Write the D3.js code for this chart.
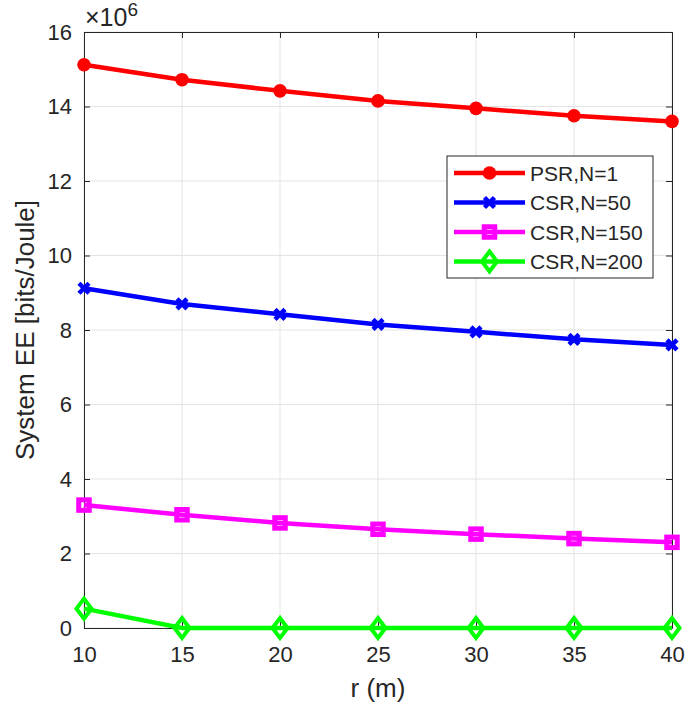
<!DOCTYPE html>
<html lang="en">
<head>
<meta charset="utf-8">
<style>
    body { margin: 0; background: #fff; }
    svg { display: block; }
    text { font-family: "Liberation Sans", Arial, sans-serif; fill: #262626; }
</style>
</head>
<body>
<svg width="687" height="706"></svg>
<script src="https://cdn.jsdelivr.net/npm/d3@7"></script>
<script>
// ---- data (values in units of 1e6 bits/Joule) ----
const rValues = [10, 15, 20, 25, 30, 35, 40];
const psrN1 = [15.12, 14.72, 14.42, 14.15, 13.95, 13.75, 13.60];
const csrN50 = [9.12, 8.70, 8.42, 8.15, 7.95, 7.75, 7.60];
const csrN150 = [3.30, 3.04, 2.82, 2.65, 2.52, 2.40, 2.30];
const csrN200 = [0.52, 0, 0, 0, 0, 0, 0];
const seriesNames = ["PSR,N=1", "CSR,N=50", "CSR,N=150", "CSR,N=200"];
const xTicks = [10, 15, 20, 25, 30, 35, 40];
const yTicks = [0, 2, 4, 6, 8, 10, 12, 14, 16];

const series = [
    { name: seriesNames[0], values: psrN1, color: "#ff0000", marker: "circle" },
    { name: seriesNames[1], values: csrN50, color: "#0000ff", marker: "x" },
    { name: seriesNames[2], values: csrN150, color: "#ff00ff", marker: "square" },
    { name: seriesNames[3], values: csrN200, color: "#00ff00", marker: "diamond" }
];

const svg = d3.select("svg");
const margin = { left: 84, top: 32, right: 15, bottom: 78 };
const width = 687 - margin.left - margin.right;
const height = 706 - margin.top - margin.bottom;
const tickFont = "22px";
const labelFont = "26px";
const legendFont = "21px";

const chart = svg.append("g").attr("transform", `translate(${margin.left}, ${margin.top})`);

const xScale = d3.scaleLinear().domain([10, 40]).range([0, width]);
const yScale = d3.scaleLinear().domain([0, 16]).range([height, 0]);

// grid
const grid = chart.append("g").attr("stroke", "#e3e3e3").attr("stroke-width", 1);
xTicks.forEach(t => grid.append("line")
    .attr("x1", xScale(t)).attr("x2", xScale(t)).attr("y1", 0).attr("y2", height));
yTicks.forEach(t => grid.append("line")
    .attr("x1", 0).attr("x2", width).attr("y1", yScale(t)).attr("y2", yScale(t)));

// axes (ticks inward, box on)
const axisColor = "#262626";
function styleAxis(g) {
    g.attr("font-size", null).attr("font-family", null);
    g.select(".domain").attr("stroke", axisColor);
    g.selectAll(".tick line").attr("stroke", axisColor);
    g.selectAll(".tick text").attr("fill", axisColor).style("font-size", tickFont);
}
chart.append("g").attr("transform", `translate(0, ${height})`)
    .call(d3.axisBottom(xScale).tickValues(xTicks).tickSize(-6).tickPadding(18).tickSizeOuter(0))
    .call(styleAxis);
chart.append("g")
    .call(d3.axisLeft(yScale).tickValues(yTicks).tickSize(-6).tickPadding(12).tickSizeOuter(0))
    .call(styleAxis);
chart.append("g")
    .call(d3.axisTop(xScale).tickValues(xTicks).tickSize(-6).tickFormat("").tickSizeOuter(0))
    .call(styleAxis);
chart.append("g").attr("transform", `translate(${width}, 0)`)
    .call(d3.axisRight(yScale).tickValues(yTicks).tickSize(-6).tickFormat("").tickSizeOuter(0))
    .call(styleAxis);

// exponent label
const expo = chart.append("text").attr("x", 1).attr("y", -6).style("font-size", "25px");
expo.append("tspan").text("\u00d710");
expo.append("tspan").attr("dy", -10).style("font-size", "19px").text("6");

// axis titles
svg.append("text")
    .attr("x", margin.left + width / 2).attr("y", 697)
    .attr("text-anchor", "middle").style("font-size", labelFont)
    .text("r (m)");
svg.append("text")
    .attr("transform", `translate(34, ${margin.top + height / 2}) rotate(-90)`)
    .attr("text-anchor", "middle").style("font-size", labelFont)
    .text("System EE [bits/Joule]");

// markers
function drawMarker(g, type, color, x, y) {
    if (type === "circle") {
        g.append("circle").attr("cx", x).attr("cy", y).attr("r", 6.8).attr("fill", color);
    } else if (type === "x") {
        g.append("path").attr("d", `M${x - 5},${y - 5}L${x + 5},${y + 5}M${x - 5},${y + 5}L${x + 5},${y - 5}`)
            .attr("stroke", color).attr("stroke-width", 4.5);
    } else if (type === "square") {
        g.append("rect").attr("x", x - 5.25).attr("y", y - 5.25).attr("width", 10.5).attr("height", 10.5)
            .attr("fill", "none").attr("stroke", color).attr("stroke-width", 5);
    } else if (type === "diamond") {
        g.append("path").attr("d", `M${x},${y - 10}L${x + 7.5},${y}L${x},${y + 10}L${x - 7.5},${y}Z`)
            .attr("fill", "none").attr("stroke", color).attr("stroke-width", 4);
    }
}

const line = d3.line().x((d, i) => xScale(rValues[i])).y(d => yScale(d));
series.forEach(s => {
    const g = chart.append("g");
    g.append("path").datum(s.values).attr("d", line)
        .attr("fill", "none").attr("stroke", s.color).attr("stroke-width", 4.5);
    s.values.forEach((v, i) => drawMarker(g, s.marker, s.color, xScale(rValues[i]), yScale(v)));
});

// legend
const legend = svg.append("g").attr("transform", "translate(447, 156)");
legend.append("rect").attr("width", 206).attr("height", 122)
    .attr("fill", "#fff").attr("stroke", axisColor).attr("stroke-width", 1);
series.forEach((s, i) => {
    const y = 17 + i * 29.5;
    legend.append("line").attr("x1", 7).attr("x2", 78).attr("y1", y).attr("y2", y)
        .attr("stroke", s.color).attr("stroke-width", 4.5);
    drawMarker(legend, s.marker, s.color, 42.5, y);
    legend.append("text").attr("x", 83).attr("y", y + 7.5).style("font-size", legendFont).text(s.name);
});
</script>
</body>
</html>
